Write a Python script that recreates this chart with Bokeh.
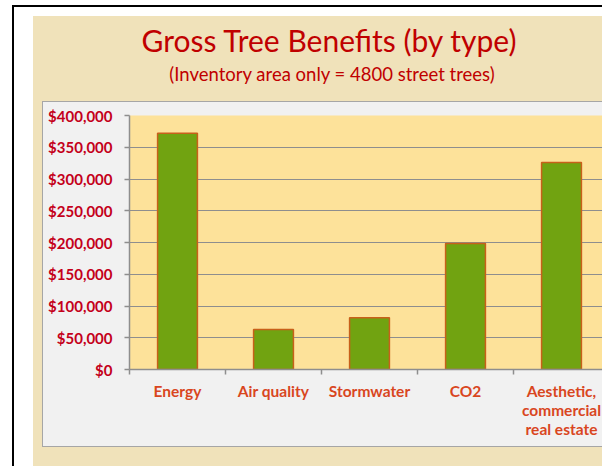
from bokeh.plotting import figure
from bokeh.models import Range1d, FixedTicker, NumeralTickFormatter, Div
from bokeh.layouts import column
from bokeh.embed import file_html
from bokeh.resources import INLINE

# ---- data ----
categories = ["Energy", "Air quality", "Stormwater", "CO2", "Aesthetic,\ncommercial\nreal estate"]
benefits = [372000, 63000, 81500, 198500, 326000]
y_ticks = [0, 50000, 100000, 150000, 200000, 250000, 300000, 350000, 400000]
title_text = "Gross Tree Benefits (by type)"
subtitle_text = "(Inventory area only = 4800 street trees)"

FONT = "Lato"
RED = "#C00000"

centers = [i + 0.5 for i in range(len(categories))]
bounds = [float(i) for i in range(len(categories) + 1)]

p = figure(width=559, height=344, output_backend="svg", toolbar_location=None,
           x_range=Range1d(0, 4.927), y_range=Range1d(0, 400000),
           min_border_left=86, min_border_right=0, min_border_top=13, min_border_bottom=77)
p.border_fill_color = "#F1F1F1"
p.background_fill_color = "#FDE29A"
p.outline_line_color = None

# grid
p.xgrid.visible = False
p.ygrid.ticker = FixedTicker(ticks=y_ticks)
p.ygrid.grid_line_color = "#8E8E8E"
p.ygrid.grid_line_width = 1.2

# bars
p.vbar(x=centers, top=benefits, width=0.415, fill_color="#71A311",
       line_color="#C8601A", line_width=1.5)

# y axis
ya = p.yaxis[0]
ya.ticker = FixedTicker(ticks=y_ticks)
ya.formatter = NumeralTickFormatter(format="$0,0")
ya.major_label_text_font = FONT
ya.major_label_text_font_style = "bold"
ya.major_label_text_font_size = "15px"
ya.major_label_text_color = "#C4001A"
ya.major_tick_out = 5
ya.major_tick_in = 0
ya.minor_tick_out = 0
ya.minor_tick_in = 0
ya.major_label_standoff = 12
ya.axis_line_color = "#8E8E8E"
ya.axis_line_width = 1.5
ya.major_tick_line_color = "#8E8E8E"
ya.major_tick_line_width = 1.5

# x axis
xa = p.xaxis[0]
xa.ticker = FixedTicker(ticks=centers, minor_ticks=bounds)
xa.major_label_overrides = {c: lab for c, lab in zip(centers, categories)}
xa.major_tick_out = 0
xa.major_tick_in = 0
xa.minor_tick_out = 5
xa.minor_tick_in = 0
xa.minor_tick_line_color = "#8E8E8E"
xa.minor_tick_line_width = 1.5
xa.axis_line_color = "#8E8E8E"
xa.axis_line_width = 1.5
xa.major_label_text_font = FONT
xa.major_label_text_font_style = "bold"
xa.major_label_text_font_size = "15.5px"
xa.major_label_text_color = "#D9461E"
xa.major_label_text_line_height = 1.075
xa.major_label_standoff = 7

# titles (HTML text in the beige header)
header = Div(width=560, height=85, text=(
    '<div style="position:relative;width:560px;height:85px;font-family:Lato;color:%s">'
    '<div style="position:absolute;left:0;top:6px;width:574px;text-align:center;'
    'font-size:30px;line-height:36px;white-space:nowrap">%s</div>'
    '<div style="position:absolute;left:0;top:47px;width:580px;text-align:center;'
    'font-size:18.5px;line-height:22px;white-space:nowrap">%s</div></div>'
) % (RED, title_text, subtitle_text), styles={"margin": "0", "padding": "0"})

panel = column(p, styles={"border-left": "1px solid #A6A6A6", "border-top": "1px solid #A6A6A6",
                          "border-bottom": "1px solid #A6A6A6", "background-color": "#F1F1F1"})
beige = column(header, panel, styles={"background-color": "#F0E2BA", "padding-left": "9px",
                                      "padding-bottom": "19px"})
framed = column(beige, styles={"border-left": "2px solid black", "border-top": "2px solid black",
                               "padding-left": "19px", "padding-top": "9px", "background-color": "white"})
page = column(framed, styles={"padding-left": "12px", "padding-top": "5px", "background-color": "white"})

open("out.html", "w").write(file_html(page, INLINE))
